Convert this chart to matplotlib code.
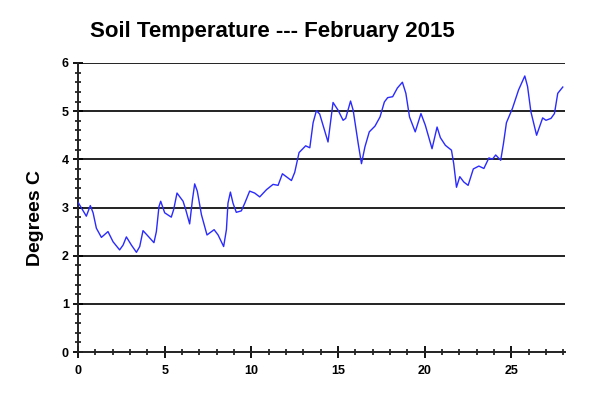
import matplotlib
matplotlib.use("Agg")
import matplotlib.pyplot as plt
from matplotlib.ticker import MultipleLocator

# day of month, soil temperature (deg C)
days = [0.0, 0.48, 0.71, 0.87, 1.06, 1.35, 1.73, 2.02, 2.40, 2.60, 2.79, 3.08,
        3.37, 3.56, 3.75, 3.98, 4.38, 4.52, 4.67, 4.77, 5.00, 5.38, 5.52, 5.71,
        6.06, 6.21, 6.44, 6.60, 6.73, 6.88, 7.12, 7.44, 7.85, 8.08, 8.40, 8.56,
        8.65, 8.79, 8.94, 9.13, 9.42, 9.62, 9.90, 10.19, 10.48, 10.87, 11.25,
        11.54, 11.79, 12.31, 12.50, 12.75, 13.13, 13.37, 13.56, 13.75, 13.94,
        14.42, 14.71, 15.00, 15.29, 15.44, 15.72, 15.87, 16.16, 16.35, 16.55,
        16.80, 17.13, 17.42, 17.67, 17.86, 18.15, 18.42, 18.71, 18.91, 19.12,
        19.45, 19.78, 20.03, 20.42, 20.71, 20.90, 21.19, 21.54, 21.67, 21.83,
        22.02, 22.25, 22.50, 22.80, 23.12, 23.41, 23.70, 23.90, 24.09, 24.38,
        24.54, 24.71, 25.06, 25.41, 25.77, 25.93, 26.12, 26.45, 26.80, 26.99,
        27.28, 27.48, 27.67, 27.96]
temps = [3.11, 2.82, 3.04, 2.89, 2.57, 2.38, 2.50, 2.29, 2.12, 2.22, 2.39, 2.22,
         2.07, 2.19, 2.52, 2.43, 2.27, 2.50, 3.02, 3.13, 2.89, 2.80, 2.96, 3.30,
         3.13, 2.96, 2.66, 3.16, 3.49, 3.34, 2.85, 2.43, 2.54, 2.43, 2.19, 2.54,
         3.09, 3.32, 3.09, 2.90, 2.93, 3.09, 3.34, 3.30, 3.22, 3.37, 3.48,
         3.46, 3.70, 3.56, 3.73, 4.14, 4.28, 4.24, 4.76, 5.01, 4.94,
         4.36, 5.18, 5.02, 4.81, 4.85, 5.21, 5.02, 4.33, 3.91, 4.26,
         4.57, 4.69, 4.88, 5.19, 5.28, 5.30, 5.48, 5.60, 5.37, 4.88,
         4.57, 4.95, 4.71, 4.22, 4.67, 4.45, 4.29, 4.19, 3.91, 3.42,
         3.64, 3.53, 3.46, 3.80, 3.86, 3.81, 4.03, 4.00, 4.09, 3.98,
         4.33, 4.76, 5.06, 5.44, 5.73, 5.51, 4.99, 4.50, 4.86, 4.81,
         4.85, 4.95, 5.37, 5.50]

plt.rcParams['font.family'] = ['Liberation Sans', 'DejaVu Sans']

fig = plt.figure(figsize=(6, 3.96), dpi=100)
ax = fig.add_axes([0.13, 0.111, 0.812, 0.730])

for g in range(1, 7):
    ax.axhline(g, color='#222222', lw=1.4, zorder=1)

ax.plot(days, temps, color='#2a2aff', lw=1.0, zorder=3)

ax.set_xlim(0, 28.1)
ax.set_ylim(0, 6)
ax.xaxis.set_major_locator(MultipleLocator(5))
ax.xaxis.set_minor_locator(MultipleLocator(1))
ax.yaxis.set_major_locator(MultipleLocator(1))
ax.yaxis.set_minor_locator(MultipleLocator(0.2))

for s in ['top', 'right']:
    ax.spines[s].set_visible(False)
for s in ['left', 'bottom']:
    ax.spines[s].set_linewidth(1.4)
    ax.spines[s].set_color('#222222')

ax.tick_params(axis='x', which='major', direction='inout', length=9, width=1.3, pad=5)
ax.tick_params(axis='x', which='minor', direction='inout', length=5, width=1.1)
ax.tick_params(axis='y', which='major', direction='inout', length=7, width=1.3, pad=3)
ax.tick_params(axis='y', which='minor', direction='inout', length=5, width=1.1)
for lab in ax.get_xticklabels() + ax.get_yticklabels():
    lab.set_fontweight('bold')
    lab.set_fontsize(9)

fig.text(272 / 600, 1 - 31 / 396, 'Soil Temperature --- February 2015',
         ha='center', va='center', fontsize=16, fontweight='bold')
fig.text(35 / 600, 1 - 218 / 396, 'Degrees C', rotation=90,
         ha='center', va='center', fontsize=14, fontweight='bold')

fig.savefig('out.png', dpi=100)
